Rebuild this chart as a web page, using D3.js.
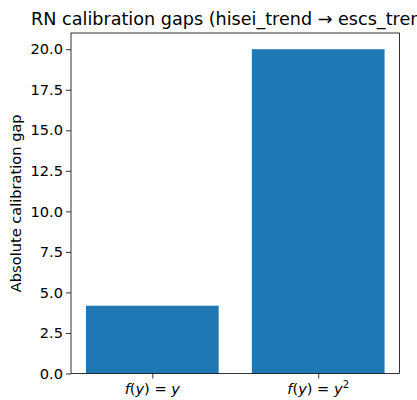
<!DOCTYPE html>
<html>
<head>
<meta charset="utf-8">
<script src="https://cdn.jsdelivr.net/npm/d3@7"></script>
<style>
  body { margin: 0; background: #fff; }
  text { font-family: "DejaVu Sans", sans-serif; }
</style>
</head>
<body>
<svg id="chart"></svg>
<script>
// data
const categories = ['linear', 'square'];
const gaps = [4.18, 20.0];
const yTicks = [0, 2.5, 5, 7.5, 10, 12.5, 15, 17.5, 20];

const width = 417, height = 400;
const margin = {top: 33, right: 17.5, bottom: 26.5, left: 71};
const innerW = width - margin.left - margin.right;
const innerH = height - margin.top - margin.bottom;

const svg = d3.select('#chart')
    .attr('width', width)
    .attr('height', height);

const chart = svg.append('g')
    .attr('transform', `translate(${margin.left}, ${margin.top})`);

// numeric x positions for the bars, like matplotlib
const xscale = d3.scaleLinear()
    .domain([-0.49, 1.49])
    .range([0, innerW]);

const yscale = d3.scaleLinear()
    .domain([0, 21])
    .range([innerH, 0]);

chart.selectAll('rect.bar')
    .data(gaps)
    .join('rect')
    .attr('class', 'bar')
    .attr('x', (d, i) => xscale(i - 0.4))
    .attr('width', xscale(0.4) - xscale(-0.4))
    .attr('y', d => yscale(d))
    .attr('height', d => yscale(0) - yscale(d))
    .attr('fill', '#1f77b4');

// axes
const yaxis = d3.axisLeft(yscale)
    .tickValues(yTicks)
    .tickSize(5)
    .tickPadding(3)
    .tickFormat(d3.format('.1f'));

const yg = chart.append('g').call(yaxis);
yg.select('.domain').remove();
yg.selectAll('text').style('font-size', '14.6px').attr('fill', '#000');
yg.selectAll('line').attr('stroke', '#000').attr('stroke-width', 0.8);

const xaxis = d3.axisBottom(xscale)
    .tickValues([0, 1])
    .tickSize(5)
    .tickFormat('');

const xg = chart.append('g')
    .attr('transform', `translate(0, ${innerH})`)
    .call(xaxis);
xg.select('.domain').remove();
xg.selectAll('line').attr('stroke', '#000').attr('stroke-width', 0.8);

// math tick labels
const labelY = innerH + 20;
const lab0 = chart.append('text')
    .attr('x', xscale(0))
    .attr('y', labelY)
    .attr('text-anchor', 'middle')
    .style('font-size', '14.6px');
lab0.append('tspan').attr('font-style', 'italic').text('f');
lab0.append('tspan').text('(');
lab0.append('tspan').attr('font-style', 'italic').text('y');
lab0.append('tspan').text(') = ');
lab0.append('tspan').attr('font-style', 'italic').text('y');

const lab1 = chart.append('text')
    .attr('x', xscale(1))
    .attr('y', labelY)
    .attr('text-anchor', 'middle')
    .style('font-size', '14.6px');
lab1.append('tspan').attr('font-style', 'italic').text('f');
lab1.append('tspan').text('(');
lab1.append('tspan').attr('font-style', 'italic').text('y');
lab1.append('tspan').text(') = ');
lab1.append('tspan').attr('font-style', 'italic').text('y');
lab1.append('tspan').attr('dy', '-5.5').style('font-size', '10.2px').text('2');

// frame
chart.append('rect')
    .attr('width', innerW)
    .attr('height', innerH)
    .attr('fill', 'none')
    .attr('stroke', '#000')
    .attr('stroke-width', 0.8);

// labels
svg.append('text')
    .attr('transform', `translate(21, ${margin.top + innerH / 2}) rotate(-90)`)
    .attr('text-anchor', 'middle')
    .style('font-size', '14.6px')
    .text('Absolute calibration gap');

// title is centred on the axes and runs past the right edge
svg.append('text')
    .attr('x', margin.left + innerW / 2)
    .attr('y', 25)
    .attr('text-anchor', 'middle')
    .style('font-size', '17.6px')
    .text('RN calibration gaps (hisei_trend → escs_trend)');
</script>
</body>
</html>
